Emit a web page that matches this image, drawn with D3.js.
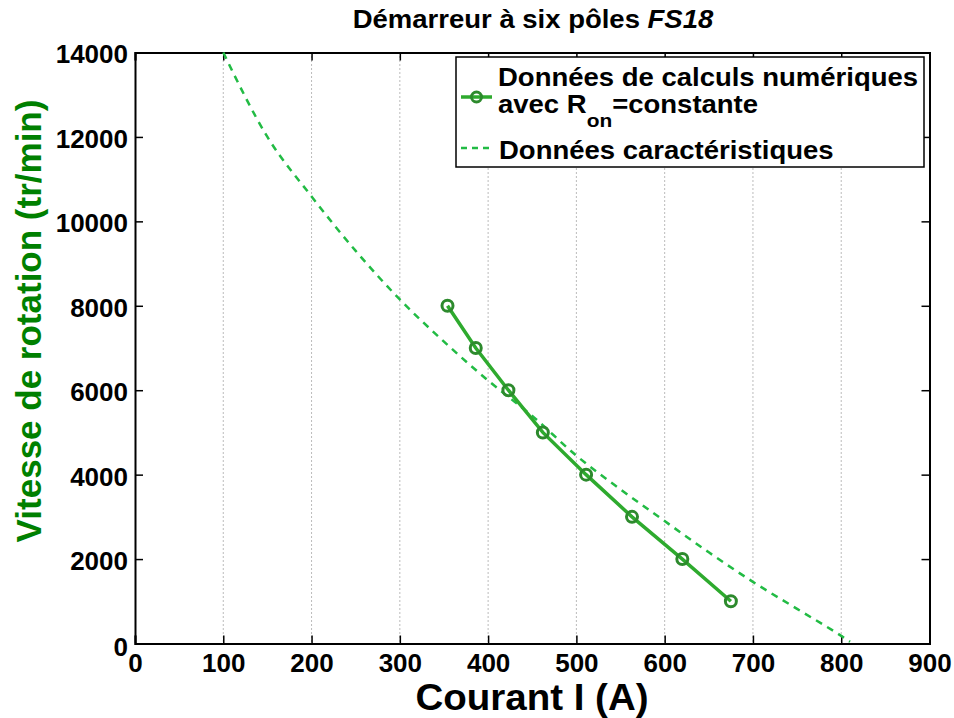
<!DOCTYPE html>
<html><head><meta charset="utf-8">
<script src="https://cdn.jsdelivr.net/npm/d3@7"></script>
<style>body{margin:0;background:#fff;} svg{display:block;} text{font-family:"Liberation Sans",Arial,sans-serif;font-weight:bold;}</style>
</head><body>
<script>
const xTicks = [0,100,200,300,400,500,600,700,800,900];
const yTicks = [0,2000,4000,6000,8000,10000,12000,14000];
const numCurrent = [354,386,423,462,511,563,620,675];
const numSpeed   = [8000,7000,6000,5000,4000,3000,2000,1000];
const charCurrent = [100,150,200,250,300,350,400,450,500,550,600,650,700,750,800,810];
const charSpeed   = [14000,12000,10590,9300,8150,7150,6230,5390,4450,3650,2900,2160,1460,820,180,40];

const W=954,H=718;
const L=135,R=929.5,T=52.5,B=643.5;
const svg=d3.select("body").append("svg").attr("width",W).attr("height",H);
const x=d3.scaleLinear().domain([0,900]).range([L,R]);
const y=d3.scaleLinear().domain([0,14000]).range([B,T]);

// grid
svg.append("g").selectAll("line").data(xTicks.filter(d=>d>0&&d<900)).join("line")
  .attr("x1",d=>x(d)).attr("x2",d=>x(d)).attr("y1",T).attr("y2",B)
  .attr("stroke","#777").attr("stroke-width",1).attr("stroke-dasharray","1,3");

// axes
const tl=8;
const gb=svg.append("g").attr("transform",`translate(0,${B})`)
  .call(d3.axisBottom(x).tickValues(xTicks).tickSize(-tl).tickFormat(d3.format("d")));
const gt=svg.append("g").attr("transform",`translate(0,${T})`)
  .call(d3.axisTop(x).tickValues(xTicks).tickSize(-tl).tickFormat(""));
const gl=svg.append("g").attr("transform",`translate(${L},0)`)
  .call(d3.axisLeft(y).tickValues(yTicks).tickSize(-tl).tickFormat(d3.format("d")));
const gr=svg.append("g").attr("transform",`translate(${R},0)`)
  .call(d3.axisRight(y).tickValues(yTicks).tickSize(-tl).tickFormat(""));
[gb,gt,gl,gr].forEach(g=>{g.select(".domain").attr("stroke","#000").attr("stroke-width",2);
  g.selectAll(".tick line").attr("stroke","#000").attr("stroke-width",1.5);
  g.selectAll("text").attr("font-size",26).attr("font-family","'Liberation Sans',Arial,sans-serif").attr("font-weight","bold").attr("fill","#000");});
gb.selectAll(".tick text").attr("y",28.5).attr("dy",0);
gl.selectAll(".tick text").attr("x",-7).attr("dy",d=>d===0?"0.45em":"0.4em");

// dashed characteristic curve
svg.append("path").datum(charCurrent.map((c,i)=>[c,charSpeed[i]]))
  .attr("d",d3.line().x(d=>x(d[0])).y(d=>y(d[1])).curve(d3.curveMonotoneX))
  .attr("fill","none").attr("stroke","#22bb44").attr("stroke-width",2.5).attr("stroke-dasharray","7,6");

// numerical data
const num=numCurrent.map((c,i)=>[c,numSpeed[i]]);
svg.append("path").datum(num).attr("d",d3.line().x(d=>x(d[0])).y(d=>y(d[1])))
  .attr("fill","none").attr("stroke","#2eaa2e").attr("stroke-width",3.5);
svg.append("g").selectAll("circle").data(num).join("circle")
  .attr("cx",d=>x(d[0])).attr("cy",d=>y(d[1])).attr("r",5.5)
  .attr("fill","none").attr("stroke","#2d8a2d").attr("stroke-width",3);

// title
const ti=svg.append("g").attr("transform","translate(533,28) scale(1.1,1)")
  .append("text").attr("text-anchor","middle").attr("font-size",25);
ti.append("tspan").text("Démarreur à six pôles ");
ti.append("tspan").attr("font-style","italic").text("FS18");

// axis titles
svg.append("g").attr("transform","translate(532,710) scale(1.07,1)")
  .append("text").attr("text-anchor","middle").attr("font-size",36).text("Courant I (A)");
svg.append("text").attr("transform","translate(41,321) rotate(-90)").attr("text-anchor","middle")
  .attr("font-size",35).attr("fill","#008000").text("Vitesse de rotation (tr/min)");

// legend
const lg=svg.append("g");
lg.append("rect").attr("x",456).attr("y",57).attr("width",468).attr("height",110)
  .attr("fill","#fff").attr("stroke","#000").attr("stroke-width",1.5);
lg.append("line").attr("x1",461).attr("x2",492).attr("y1",97).attr("y2",97).attr("stroke","#2eaa2e").attr("stroke-width",3.5);
lg.append("circle").attr("cx",476.5).attr("cy",97).attr("r",5).attr("fill","none").attr("stroke","#2d8a2d").attr("stroke-width",3);
lg.append("line").attr("x1",461).attr("x2",494).attr("y1",148).attr("y2",148).attr("stroke","#22bb44").attr("stroke-width",2.5).attr("stroke-dasharray","6,5");
const sx=1.1;
lg.append("g").attr("transform",`translate(498,86) scale(${sx},1)`).append("text").attr("font-size",25).text("Données de calculs numériques");
const t2=lg.append("g").attr("transform",`translate(498,113) scale(${sx},1)`).append("text").attr("font-size",25);
t2.append("tspan").text("avec R");
t2.append("tspan").attr("dy",14).attr("font-size",19).text("on");
t2.append("tspan").attr("dy",-14).text("=constante");
lg.append("g").attr("transform",`translate(499,159) scale(${sx},1)`).append("text").attr("font-size",25).text("Données caractéristiques");
</script>
</body></html>
